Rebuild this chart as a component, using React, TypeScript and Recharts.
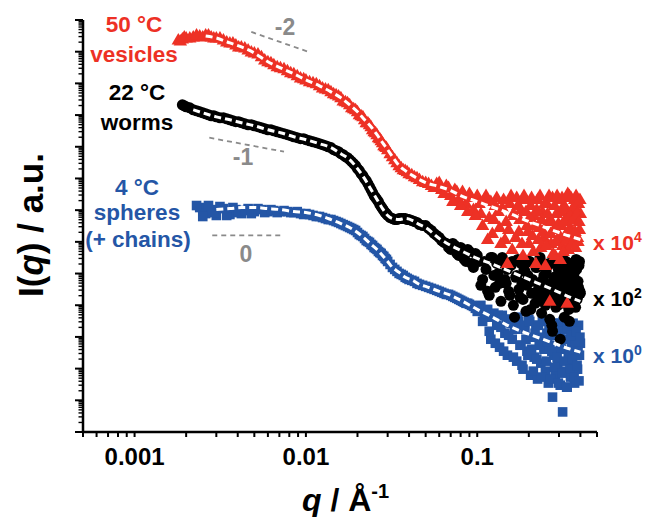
import { ComposedChart, Scatter, XAxis, YAxis, ReferenceLine } from "recharts";

const RED = "#ED3125";
const BLUE = "#2456A6";
const BLACK = "#000000";
const GREY = "#8A8A8A";
const FONT = '"Liberation Sans", Arial, sans-serif';

// scattering vector q (1/Å), shared by the three data sets
const Q = [
  0.0018, 0.0019, 0.002, 0.0022, 0.0024, 0.0026, 0.0028, 0.003, 0.0033, 0.0036,
  0.0039, 0.0042, 0.0046, 0.005, 0.0055, 0.006, 0.0065, 0.0071, 0.0078, 0.0085,
  0.0093, 0.01, 0.011, 0.012, 0.013, 0.014, 0.015, 0.016, 0.017, 0.018,
  0.019, 0.02, 0.021, 0.022, 0.023, 0.024, 0.025, 0.026, 0.027, 0.028,
  0.029, 0.03, 0.032, 0.034, 0.036, 0.038, 0.04, 0.043, 0.046,
  0.05, 0.054, 0.058, 0.062, 0.066, 0.07, 0.074, 0.078, 0.082, 0.086, 0.09, 0.095,
  0.1, 0.105, 0.11, 0.115, 0.12, 0.125, 0.13, 0.135, 0.14, 0.145,
  0.15, 0.155, 0.16, 0.165, 0.17, 0.175, 0.18, 0.185, 0.19, 0.195,
  0.2, 0.205, 0.21, 0.215, 0.22, 0.225, 0.23, 0.235, 0.24, 0.245,
  0.25, 0.255, 0.26, 0.265, 0.27, 0.275, 0.28, 0.285, 0.29, 0.295,
  0.3, 0.305, 0.31, 0.315, 0.32, 0.325, 0.33, 0.335, 0.34, 0.345,
  0.35, 0.355, 0.36, 0.365, 0.37, 0.375, 0.38, 0.385, 0.39, 0.395,
  0.4,
];
// in-between q points of the low/mid q range
const Q_MID = [
  0.00185, 0.00195, 0.0021, 0.0023, 0.0025, 0.0027, 0.0029, 0.00315, 0.00345, 0.00375,
  0.00405, 0.0044, 0.0048, 0.00525, 0.00575, 0.00625, 0.0068, 0.00745, 0.00815, 0.0089,
  0.0097, 0.0105, 0.0115, 0.0125, 0.0135, 0.0145, 0.0155, 0.0165, 0.0175, 0.0185,
  0.0195, 0.0205, 0.0215, 0.0225, 0.0235, 0.0245, 0.0255, 0.0265, 0.0275, 0.0285,
  0.0295, 0.031, 0.033, 0.035, 0.037, 0.039, 0.0415, 0.0445,
  0.048, 0.052, 0.056, 0.06, 0.064, 0.068, 0.072, 0.076, 0.08, 0.084,
  0.088, 0.0925, 0.0975,
];
// in-between q points of the high q range
const Q_HI = [
  0.1025, 0.1075, 0.1125, 0.1175, 0.1225, 0.1275, 0.1325, 0.1375, 0.1425, 0.1475,
  0.1525, 0.1575, 0.1625, 0.1675, 0.1725, 0.1775, 0.1825, 0.1875, 0.1925, 0.1975,
  0.2025, 0.2075, 0.2125, 0.2175, 0.2225, 0.2275, 0.2325, 0.2375, 0.2425, 0.2475,
  0.2525, 0.2575, 0.2625, 0.2675, 0.2725, 0.2775, 0.2825, 0.2875, 0.2925, 0.2975,
  0.3025, 0.3075, 0.3125, 0.3175, 0.3225, 0.3275, 0.3325, 0.3375, 0.3425, 0.3475,
  0.3525, 0.3575, 0.3625, 0.3675, 0.3725, 0.3775, 0.3825, 0.3875, 0.3925, 0.3975,
];

// 50 °C vesicles (x 10^4)
const I_50C = [
  2.34e12, 2.52e12, 2.71e12, 2.91e12, 3.13e12, 3.37e12, 2.91e12, 2.71e12, 2.34e12, 1.89e12,
  1.63e12, 1.41e12, 1.14e12, 9.1e11, 6.9e11, 4.8e11, 3.85e11, 3.1e11, 2.5e11, 2.0e11,
  1.49e11, 1.29e11, 1.04e11, 8.4e10, 6.7e10, 5.4e10, 4.35e10, 3.5e10, 2.62e10, 2.1e10,
  1.58e10, 1.27e10, 9.5e9, 7.1e9, 5.75e9, 4.3e9, 2.98e9, 2.4e9, 1.8e9, 1.35e9,
  1.0e9, 8.1e8, 4.85e8, 3.15e8, 2.19e8, 1.77e8, 1.42e8, 1.14e8, 9.2e7,
  7.4e7, 5.96e7, 6.9e7, 4.46e7, 5.96e7, 2.88e7, 4.46e7, 2.16e7, 3.85e7, 1.61e7, 3.33e7, 1.04e7,
  2.88e7, 7.8e6, 2.16e7, 1.19e6, 1.87e7, 5.06e6, 2.5e7, 2.83e6, 1.21e7, 1.19e6,
  2.08e5, 1.61e7, 5.75e5, 6.8e6, 2.5e7, 2.12e6, 1.04e7, 3.72e5, 2.16e7, 3.27e6,
  8.9e5, 1.4e7, 1.59e6, 6.8e6, 2.08e5, 2.16e7, 2.83e6, 6.65e5, 9.0e6, 1.37e6,
  1.8e5, 1.61e7, 4.38e6, 1.33e4, 8.9e5, 2.5e7, 2.45e6, 3.72e5, 7.8e6, 1.19e6,
  2.16e7, 2.79e5, 3.27e6, 7.7e5, 1.4e7, 1.59e6, 5.85e6, 1.15e4, 5.75e5, 2.88e7,
  2.83e6, 1.03e6, 1.04e7, 1.59e6, 2.16e7, 6.65e5, 5.06e6, 1.37e6, 1.61e7, 2.45e6,
  7.8e6,
];
const I_50C_MID = [
  2.18e12, 2.91e12, 2.71e12, 3.37e12, 2.91e12, 3.37e12, 2.71e12, 2.71e12, 2.03e12, 1.89e12,
  1.41e12, 1.31e12, 9.8e11, 8.5e11, 5.5e11, 4.45e11, 3.35e11, 2.88e11, 2.15e11, 1.73e11,
  1.39e11, 1.12e11, 9.7e10, 7.2e10, 6.3e10, 4.7e10, 4.0e10, 2.8e10, 2.44e10, 1.7e10,
  1.47e10, 1.02e10, 8.8e9, 5.75e9, 4.95e9, 3.44e9, 2.78e9, 1.93e9, 1.55e9, 1.08e9,
  9.4e8, 6.05e8, 3.92e8, 2.54e8, 1.9e8, 1.64e8, 1.32e8, 1.06e8,
  7.9e7, 6.9e7, 5.15e7, 7.4e7, 3.33e7, 5.15e7, 1.87e7, 3.85e7, 1.4e7, 2.88e7,
  9.0e6, 2.5e7, 6.8e6,
];
const I_50C_HI = [
  1.61e7, 3.27e6, 2.88e7, 5.85e6, 1.84e6, 1.4e7, 9.0e6, 8.9e5, 2.16e7, 4.38e6,
  2.45e6, 2.88e7, 7.8e6, 1.37e6, 1.4e7, 5.06e6, 8.9e5, 2.88e7, 9.0e6, 2.12e6,
  5.85e6, 2.5e7, 4.98e5, 3.27e6, 1.04e7, 1.19e6, 2.88e7, 5.06e6, 2.12e6, 1.61e7,
  7.7e5, 7.8e6, 2.88e7, 1.84e6, 4.38e6, 4.31e5, 1.4e7, 1.03e6, 2.88e7, 3.79e6,
  1.59e6, 9.0e6, 2.5e7, 4.98e5, 4.38e6, 1.21e7, 1.19e6, 3.33e7, 2.45e6, 6.8e6,
  2.5e7, 8.9e5, 5.06e6, 1.4e7, 2.12e6, 2.88e7, 7.8e6, 1.03e6, 4.38e6, 2.16e7,
];

// 22 °C worms (x 10^2)
const I_22C = [
  null, 2.1e10, 1.83e10, 1.47e10, 1.27e10, 1.1e10, 9.5e9, 8.8e9, 8.2e9, 7.1e9,
  6.2e9, 5.75e9, 4.95e9, 4.6e9, 3.98e9, 3.44e9, 3.2e9, 2.78e9, 2.4e9, 2.07e9,
  1.8e9, 1.67e9, 1.44e9, 1.25e9, 1.08e9, 9.4e8, 7.5e8, 6.05e8, 4.85e8, 3.92e8,
  2.93e8, 2.04e8, 1.42e8, 9.9e7, 6.9e7, 4.46e7, 2.88e7, 2.16e7, 1.5e7, 1.12e7,
  8.4e6, 6.8e6, 5.45e6, 5.06e6, 5.45e6, 5.45e6, 5.06e6, 4.38e6, 3.5e6,
  3.27e6, 2.28e6, 1.59e6, 1.1e6, 8.9e5, 5.75e5, 7.7e5, 3.72e5, 5.75e5, 2.41e5, 4.98e5, 1.56e5,
  3.72e5, 4.24e4, 2.41e5, 2.74e4, 3.22e5, 8.7e4, 2.08e5, 4.9e4, 3.22e5, 6.5e4,
  1.35e5, 2.05e4, 2.41e5, 4.2e3, 8.7e4, 3.17e4, 2.08e5, 1.53e4, 1.17e5, 4.24e4,
  2.41e5, 7.4e3, 6.5e4, 2.37e4, 1.56e5, 1.33e4, 4.9e4, 2.41e5, 2.05e4, 8.7e4,
  9.9e3, 3.66e4, 1.8e5, 3.6e3, 2.74e4, 1.51e3, 7.6e4, 1.53e4, 2.08e5, 9.9e3,
  4.24e4, 846, 2.05e4, 1.35e5, 1.15e4, 4.9e4, 2.41e5, 1.53e4, 3.17e4, 3.1e3,
  8.7e4, 9.9e3, 1.8e5, 2.05e4, 4.9e4, 8.6e3, 1.35e5, 1.77e4, 3.66e4, 2.41e5,
  2.37e4,
];
const I_22C_MID = [
  null, 1.96e10, 1.7e10, 1.37e10, 1.18e10, 1.02e10, 9.5e9, 8.2e9, 7.6e9, 6.6e9,
  6.2e9, 5.3e9, 4.95e9, 4.3e9, 3.7e9, 3.44e9, 2.98e9, 2.58e9, 2.23e9, 1.93e9,
  1.8e9, 1.55e9, 1.35e9, 1.16e9, 1.0e9, 8.1e8, 7.0e8, 5.6e8, 4.5e8, 3.39e8,
  2.54e8, 1.77e8, 1.23e8, 8.5e7, 5.55e7, 3.6e7, 2.5e7, 1.87e7, 1.3e7, 9.7e6,
  7.8e6, 5.85e6, 5.06e6, 5.45e6, 5.45e6, 5.06e6, 4.7e6, 4.1e6,
  3.27e6, 2.64e6, 1.84e6, 1.37e6, 9.6e5, 6.65e5, 8.9e5, 4.31e5, 6.65e5, 2.79e5,
  5.75e5, 2.08e5, 4.31e5,
];
const I_22C_HI = [
  2.41e5, 6.5e4, 1.35e5, 2.05e4, 3.22e5, 3.66e4, 1.01e5, 1.33e4, 2.08e5, 4.9e4,
  2.74e4, 1.8e5, 9.9e3, 7.6e4, 2.79e5, 1.77e4, 4.9e4, 1.35e5, 6.4e3, 8.7e4,
  2.41e5, 2.37e4, 5.66e4, 1.15e4, 1.56e5, 3.17e4, 3.22e5, 5.6e3, 6.5e4, 2.05e4,
  1.17e5, 1.53e4, 2.08e5, 3.66e4, 2.33e3, 5.66e4, 2.41e5, 8.6e3, 2.74e4, 1.35e5,
  1.33e4, 8.7e4, 3.17e4, 2.79e5, 4.2e3, 4.24e4, 1.77e4, 1.56e5, 7.4e3, 6.5e4,
  2.08e5, 2.05e4, 9.9e3, 1.01e5, 3.66e4, 2.79e5, 1.53e4, 5.66e4, 1.8e5, 2.74e4,
];

// 4 °C spheres (+ chains) (x 10^0)
const I_4C = [
  null, null, null, null, 1.21e7, 7.8e6, 1.04e7, 6.8e6, 1.12e7, 7.3e6,
  1.04e7, 7.8e6, 1.12e7, 9.0e6, 1.04e7, 9.0e6, 9.7e6, 9.0e6, 9.0e6, 8.4e6,
  7.8e6, 7.8e6, 6.8e6, 6.3e6, 5.45e6, 5.06e6, 4.38e6, 3.79e6, 3.27e6, 2.83e6,
  2.45e6, 1.97e6, 1.59e6, 1.28e6, 1.03e6, 8.3e5, 6.65e5, 5.75e5, 4.6e5, 3.72e5,
  3.0e5, 2.41e5, 1.56e5, 1.17e5, 9.4e4, 7.6e4, 6.5e4, 5.66e4, 4.55e4,
  3.94e4, 3.4e4, 2.95e4, 2.55e4, 2.2e4, 2.05e4, 1.77e4, 1.53e4, 1.33e4, 1.15e4, 1.07e4, 9.2e3,
  6.4e3, 9.9e3, 4.2e3, 7.4e3, 846, 5.6e3, 2.33e3, 473, 4.8e3, 1.31e3,
  265, 3.6e3, 846, 2.02e3, 172, 3.1e3, 547, 96, 1.75e3, 355,
  3.6e3, 62, 980, 230, 2.33e3, 47, 632, 149, 3.1e3, 410,
  83, 1.31e3, 35, 547, 2.33e3, 12.6, 265, 62, 1.13e3, 128,
  2.7e3, 30, 410, 4.3, 846, 83, 1.75e3, 26, 265, 2.33e3,
  54, 632, 149, 1.75e3, 35, 355, 846, 96, 2.33e3, 265,
  632,
];
const I_4C_MID = [
  null, null, null, 1.4e7, 6.3e6, 1.4e7, 8.4e6, 1.3e7, 6.8e6, 1.21e7,
  8.4e6, 9.7e6, 7.8e6, 1.12e7, 8.4e6, 1.04e7, 8.4e6, 9.7e6, 8.4e6, 9.0e6,
  7.3e6, 7.3e6, 6.3e6, 5.85e6, 5.06e6, 4.7e6, 4.1e6, 3.5e6, 3.05e6, 2.64e6,
  2.28e6, 1.71e6, 1.48e6, 1.1e6, 9.6e5, 7.7e5, 6.2e5, 4.98e5, 4.31e5, 3.47e5,
  2.79e5, 1.94e5, 1.35e5, 1.01e5, 8.7e4, 7.05e4, 6.1e4, 4.9e4,
  4.24e4, 3.66e4, 3.17e4, 2.74e4, 2.37e4, 2.2e4, 1.9e4, 1.65e4, 1.43e4, 1.24e4,
  1.15e4, 9.9e3, 8.0e3,
];
const I_4C_HI = [
  7.4e3, 3.1e3, 5.6e3, 1.51e3, 4.2e3, 632, 4.8e3, 2.02e3, 355, 3.6e3,
  1.13e3, 2.7e3, 230, 1.75e3, 4.2e3, 547, 128, 2.33e3, 846, 265,
  3.1e3, 410, 83, 1.31e3, 199, 2.33e3, 547, 54, 980, 3.1e3,
  172, 731, 2.02e3, 47, 355, 1.13e3, 111, 2.7e3, 230, 35,
  1.51e3, 473, 72, 3.1e3, 172, 846, 26, 2.02e3, 307, 96,
  1.13e3, 199, 2.7e3, 54, 547, 1.51e3, 128, 355, 41, 980,
];

// model fits
const Q_FIT = [
  0.0022, 0.0026, 0.003, 0.0036, 0.0042, 0.005, 0.006, 0.0071, 0.0085, 0.01,
  0.012, 0.014, 0.016, 0.018, 0.02, 0.022, 0.024, 0.026, 0.028, 0.03,
  0.032, 0.035, 0.038, 0.042, 0.046, 0.05, 0.06, 0.07, 0.08, 0.1,
  0.12, 0.15, 0.2, 0.25, 0.3, 0.35, 0.4,
];
const FIT_50C = [
  null, 3.13e12, 2.71e12, 1.89e12, 1.41e12, 9.1e11, 4.8e11, 3.1e11, 2.0e11, 1.29e11,
  8.4e10, 5.4e10, 3.5e10, 2.1e10, 1.27e10, 7.1e9, 4.3e9, 2.4e9, 1.35e9, 8.1e8,
  4.85e8, 2.54e8, 1.77e8, 1.23e8, 9.2e7, 7.4e7, 5.55e7, 4.15e7, 2.88e7, 1.87e7,
  1.3e7, 8.4e6, 4.38e6, 2.83e6, 1.97e6, 1.48e6, 1.19e6,
];
const FIT_22C = [
  1.47e10, 1.1e10, 8.8e9, 7.1e9, 5.75e9, 4.6e9, 3.44e9, 2.78e9, 2.07e9, 1.67e9,
  1.25e9, 9.4e8, 6.05e8, 3.92e8, 2.04e8, 9.9e7, 4.46e7, 2.16e7, 1.12e7, 6.8e6,
  5.45e6, 5.06e6, 5.45e6, 4.7e6, 3.5e6, 2.83e6, 1.28e6, 7.7e5, 5.35e5, 3.0e5,
  2.08e5, 1.26e5, 6.5e4, 3.94e4, 2.55e4, 1.77e4, 1.33e4,
];
const FIT_4C = [
  null, null, 1.04e7, 1.12e7, 1.21e7, 1.21e7, 1.12e7, 1.04e7, 9.0e6, 8.4e6,
  6.8e6, 5.06e6, 3.79e6, 2.83e6, 1.97e6, 1.28e6, 8.3e5, 5.75e5, 3.72e5, 2.41e5,
  1.56e5, 1.09e5, 7.6e4, 6.1e4, 4.55e4, 3.94e4, 2.74e4, 2.05e4, 1.43e4, 7.4e3,
  4.5e3, 2.33e3, 1.22e3, 790, 547, 410, 330,
];

// power-law guide lines: [q, I] end points
const SLOPE_GUIDES = [
  { label: "-2", from: [0.0048, 4.2e12], to: [0.0104, 9.8e11] },
  { label: "-1", from: [0.00273, 1.93e9], to: [0.00745, 7.0e8] },
  { label: "0", from: [0.00284, 1.59e6], to: [0.00745, 1.59e6] },
];

const X_DECADES = [0.0001, 0.001, 0.01, 0.1];
const Y_DECADES = [1, 1e1, 1e2, 1e3, 1e4, 1e5, 1e6, 1e7, 1e8, 1e9, 1e10, 1e11, 1e12, 1e13];
const MULT = [1, 2, 3, 4, 5, 6, 7, 8, 9];

const X_TICKS = X_DECADES.flatMap((d) => MULT.map((m) => +(d * m).toPrecision(6))).filter(
  (v) => v >= 0.0005 && v <= 0.5
);
const Y_TICKS = Y_DECADES.flatMap((d) => MULT.map((m) => d * m)).filter((v) => v <= 1e13);

const isDecade = (v: number) => Math.abs(Math.log10(v) - Math.round(Math.log10(v))) < 1e-6;

const toPoints = (qs: number[], vals: (number | null)[]) =>
  qs.map((q, i) => ({ q, I: vals[i] })).filter((p) => p.I != null);

const d50 = [...toPoints(Q, I_50C), ...toPoints(Q_MID, I_50C_MID), ...toPoints(Q_HI, I_50C_HI)];
const d22 = [...toPoints(Q, I_22C), ...toPoints(Q_MID, I_22C_MID), ...toPoints(Q_HI, I_22C_HI)];
const d4 = [...toPoints(Q, I_4C), ...toPoints(Q_MID, I_4C_MID), ...toPoints(Q_HI, I_4C_HI)];
const f50 = toPoints(Q_FIT, FIT_50C);
const f22 = toPoints(Q_FIT, FIT_22C);
const f4 = toPoints(Q_FIT, FIT_4C);

const Triangle = (p: any) => (
  <path d={`M${p.cx},${p.cy - 7}L${p.cx + 6.7},${p.cy + 4.5}L${p.cx - 6.7},${p.cy + 4.5}Z`} fill={RED} />
);
const Dot = (p: any) => <circle cx={p.cx} cy={p.cy} r={5.5} fill={BLACK} />;
const Square = (p: any) => <rect x={p.cx - 4.8} y={p.cy - 4.8} width={9.6} height={9.6} fill={BLUE} />;
const NoMark = () => <g />;

function XTick(props: any) {
  const { x, y, payload } = props;
  const v = payload.value;
  const major = isDecade(v) && v > 0.0006;
  return (
    <g>
      <line x1={x} x2={x} y1={y} y2={y + 5} stroke="#000" strokeWidth={2} />
      {major && (
        <text x={x} y={y + 33} textAnchor="middle" fontFamily={FONT} fontWeight={700} fontSize={24} fill="#000">
          {String(v)}
        </text>
      )}
    </g>
  );
}

function YTick(props: any) {
  const { x, y, payload } = props;
  const major = isDecade(payload.value);
  return <line x1={x} x2={x - (major ? 8 : 4.5)} y1={y} y2={y} stroke="#000" strokeWidth={major ? 2 : 1.4} />;
}

const fitLine = { stroke: "#ffffff", strokeWidth: 3, strokeDasharray: "7 4", fill: "none" };

export default function App() {
  return (
    <div style={{ position: "absolute", left: 0, top: 0, width: 646, height: 517, background: "#fff" }}>
      <ComposedChart width={646} height={517} margin={{ top: 20, right: 49, bottom: 55, left: 73 }}>
        <XAxis
          dataKey="q"
          type="number"
          scale="log"
          domain={[0.0005, 0.5]}
          allowDataOverflow
          ticks={X_TICKS}
          interval={0}
          tickSize={0}
          tickMargin={0}
          height={30}
          tick={<XTick />}
          tickLine={false}
          axisLine={{ stroke: "#000", strokeWidth: 2.5 }}
        />
        <YAxis
          dataKey="I"
          type="number"
          scale="log"
          domain={[1, 1e13]}
          allowDataOverflow
          ticks={Y_TICKS}
          interval={0}
          tickSize={0}
          tickMargin={0}
          width={10}
          tick={<YTick />}
          tickLine={false}
          axisLine={{ stroke: "#000", strokeWidth: 2.5 }}
        />

        {SLOPE_GUIDES.map((g) => (
          <ReferenceLine
            key={g.label}
            segment={[
              { x: g.from[0], y: g.from[1] },
              { x: g.to[0], y: g.to[1] },
            ]}
            stroke={GREY}
            strokeWidth={1.8}
            strokeDasharray="5 4"
          />
        ))}

        <Scatter data={d4} shape={Square} isAnimationActive={false} />
        <Scatter data={d22} shape={Dot} isAnimationActive={false} />
        <Scatter data={d50} shape={Triangle} isAnimationActive={false} />

        <Scatter data={f4} shape={NoMark} line={fitLine} lineJointType="monotoneX" isAnimationActive={false} />
        <Scatter data={f22} shape={NoMark} line={fitLine} lineJointType="monotoneX" isAnimationActive={false} />
        <Scatter data={f50} shape={NoMark} line={fitLine} lineJointType="monotoneX" isAnimationActive={false} />
      </ComposedChart>

      <svg
        width={646}
        height={517}
        style={{ position: "absolute", left: 0, top: 0, pointerEvents: "none" }}
        fontFamily={FONT}
        fontWeight={700}
      >
        <g fontSize={22.5} textAnchor="middle">
          <text x={134} y={32} fill={RED}>50 °C</text>
          <text x={134} y={62} fill={RED}>vesicles</text>
          <text x={137} y={100} fill={BLACK}>22 °C</text>
          <text x={137} y={130} fill={BLACK}>worms</text>
          <text x={137} y={195} fill={BLUE}>4 °C</text>
          <text x={137} y={220} fill={BLUE}>spheres</text>
          <text x={138} y={247} fill={BLUE}>(+ chains)</text>
        </g>
        <g fontSize={23} textAnchor="middle" fill={GREY}>
          <text x={285} y={35}>-2</text>
          <text x={243} y={165}>-1</text>
          <text x={246} y={262}>0</text>
        </g>
        <g fontSize={21}>
          <text x={593} y={250} fill={RED}>
            x 10<tspan dy={-8} fontSize={14}>4</tspan>
          </text>
          <text x={593} y={306} fill={BLACK}>
            x 10<tspan dy={-8} fontSize={14}>2</tspan>
          </text>
          <text x={593} y={363} fill={BLUE}>
            x 10<tspan dy={-8} fontSize={14}>0</tspan>
          </text>
        </g>
        <text transform="translate(43,225) rotate(-90)" textAnchor="middle" fontSize={35} fill="#000">
          I(<tspan fontStyle="italic">q</tspan>) / a.u.
        </text>
        <text x={302} y={511} fontSize={32} fill="#000">
          <tspan fontStyle="italic">q</tspan> / Å<tspan dy={-13} fontSize={20}>-1</tspan>
        </text>
      </svg>
    </div>
  );
}
